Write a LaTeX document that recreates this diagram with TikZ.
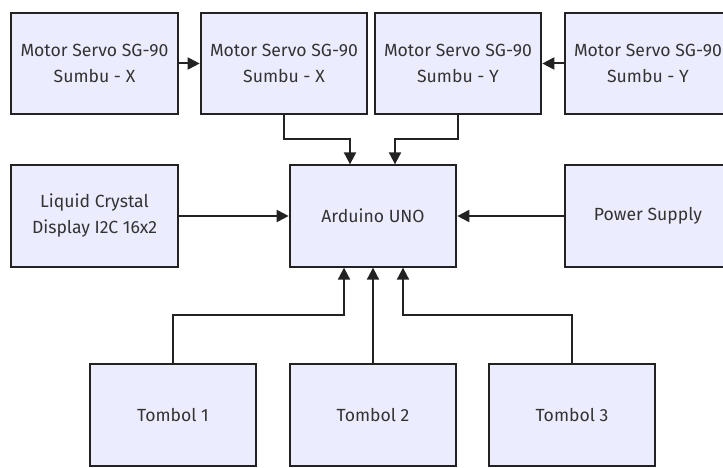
\documentclass[tikz,border=0pt]{standalone}
\usepackage{fontspec}
\setmainfont{Fira Sans}
\usetikzlibrary{arrows.meta,positioning}
\definecolor{boxfill}{HTML}{ECECFF}
\definecolor{boxline}{HTML}{222222}
\definecolor{teks}{HTML}{333333}

\tikzset{
  blok/.style={draw=boxline, fill=boxfill, line width=1.5pt, text=teks,
    minimum width=125pt, minimum height=76pt, inner sep=0pt, align=center,
    font=\fontsize{13.2}{19.5}\selectfont},
  panah/.style={draw=boxline, line width=1.5pt, -{Triangle[length=9pt,width=9pt]}}
}

\begin{document}
\begin{tikzpicture}[x=0.75pt,y=-0.75pt]
\useasboundingbox (0,0) rectangle (723,467);
% baris servo
\node[blok] (servoxa) at (94.5,63.5) {Motor Servo SG-90\\Sumbu - X};
\node[blok] (servoxb) at (284,63.5) {Motor Servo SG-90\\Sumbu - X};
\node[blok] (servoya) at (458,63.5) {Motor Servo SG-90\\Sumbu - Y};
\node[blok] (servoyb) at (648,63.5) {Motor Servo SG-90\\Sumbu - Y};
% baris tengah
\node[blok] (lcd) at (94.5,216) {Liquid Crystal\\Display I2C 16x2};
\node[blok] (arduino) at (373,216) {Arduino UNO};
\node[blok] (power) at (648,216) {Power Supply};
% tombol
\node[blok] (tombol1) at (173,415) {Tombol 1};
\node[blok] (tombol2) at (373,415) {Tombol 2};
\node[blok] (tombol3) at (572,415) {Tombol 3};

\draw[panah] (servoxa) -- (servoxb);
\draw[panah] (servoyb) -- (servoya);
\draw[panah] (servoxb.south) -- ++(0,24) -| ([xshift=-17.25pt]arduino.north);
\draw[panah] (servoya.south) -- ++(0,24) -| ([xshift=16.5pt]arduino.north);
\draw[panah] (lcd) -- (arduino);
\draw[panah] (power) -- (arduino);
\draw[panah] (tombol1.north) -- ++(0,-48) -| ([xshift=-21.75pt]arduino.south);
\draw[panah] (tombol2.north) -- (arduino.south);
\draw[panah] (tombol3.north) -- ++(0,-48) -| ([xshift=22.5pt]arduino.south);
\end{tikzpicture}
\end{document}
